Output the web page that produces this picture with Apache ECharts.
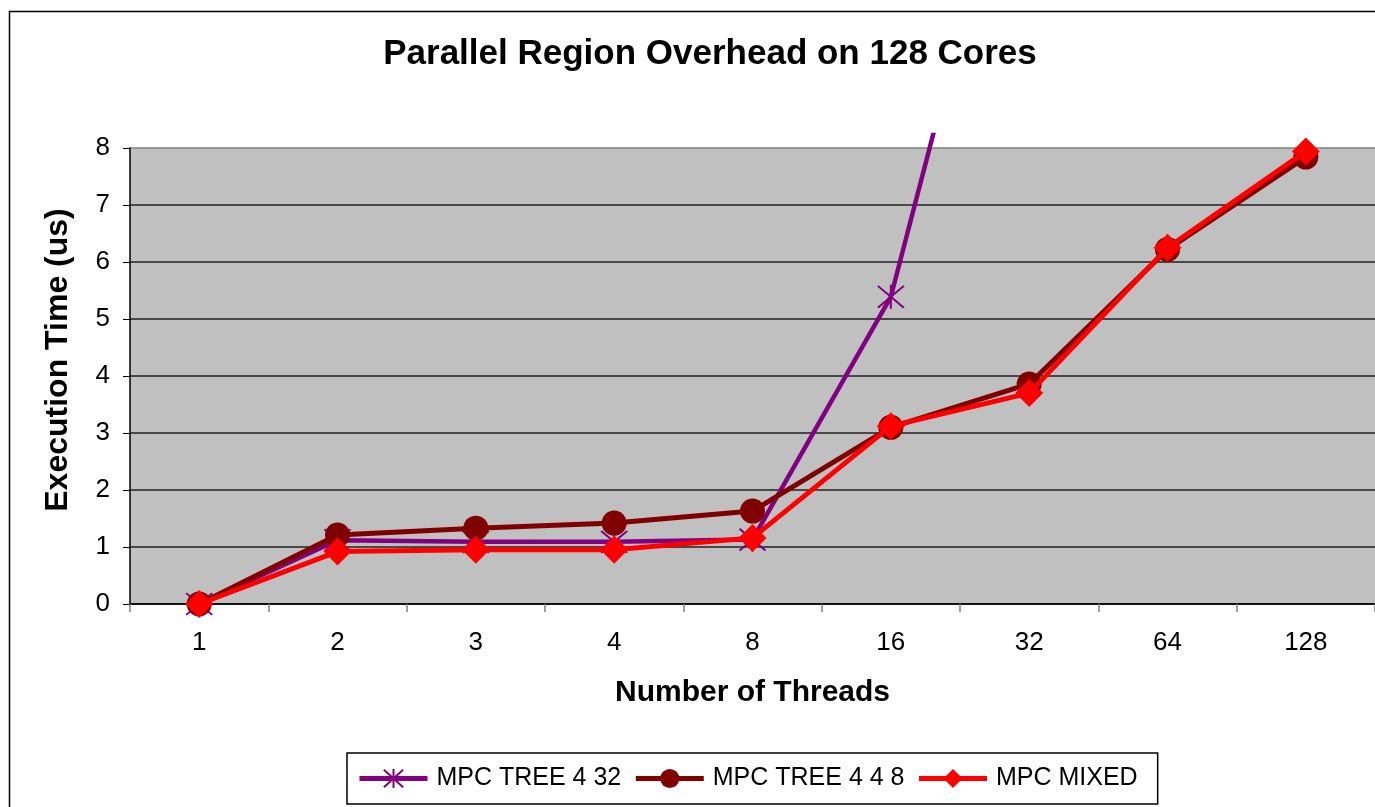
<!DOCTYPE html>
<html>
<head>
<meta charset="utf-8">
<script src="https://cdn.jsdelivr.net/npm/echarts@6/dist/echarts.min.js"></script>
<style>
  html, body { margin: 0; padding: 0; background: #fff; }
  #chart { width: 1375px; height: 807px; }
</style>
</head>
<body>
<div id="chart"></div>
<script>
// Thread counts on the category axis
const threads = ['1', '2', '3', '4', '8', '16', '32', '64', '128'];

// Execution time (us) per configuration
const treeFourThirtyTwo = [0, 1.12, 1.09, 1.09, 1.13, 5.39, 14.7, null, null];
const treeFourFourEight = [0, 1.21, 1.33, 1.42, 1.63, 3.1, 3.86, 6.22, 7.84];
const mixed = [0, 0.92, 0.95, 0.95, 1.16, 3.12, 3.7, 6.25, 7.94];

// Y-axis tick values
const yTicks = [0, 1, 2, 3, 4, 5, 6, 7, 8];

const seriesNames = ['MPC TREE 4 32', 'MPC TREE 4 4 8', 'MPC MIXED'];

const FONT = '"Liberation Sans", Arial, sans-serif';

// Plot area geometry: the framed plot spans 0..8; lines may run a little above it
const plotTop = 148, plotBottom = 203, lineTop = 135, chartH = 807;
const plotH = chartH - plotTop - plotBottom;
const lineH = chartH - lineTop - plotBottom;
const yMax = yTicks[yTicks.length - 1];
const lineMax = yMax * lineH / plotH;

const chart = echarts.init(document.getElementById('chart'), null, { renderer: 'canvas' });

const starPath = 'path://M0,0L20,20M20,0L0,20M10,-1L10,21';

const option = {
  backgroundColor: '#ffffff',
  animation: false,
  title: {
    text: 'Parallel Region Overhead on 128 Cores',
    left: 705,
    textAlign: 'center',
    top: 32,
    textStyle: { fontFamily: FONT, fontWeight: 'bold', fontSize: 35, color: '#000' }
  },
  graphic: [{
    type: 'rect',
    left: 7, top: 9,
    shape: { width: 1400, height: 830 },
    style: { fill: 'none', stroke: '#000', lineWidth: 1.5 },
    silent: true
  }],
  legend: {
    data: seriesNames,
    left: 347,
    top: 753,
    orient: 'horizontal',
    itemWidth: 68,
    itemHeight: 24,
    itemGap: 12,
    padding: [13, 20, 13, 10],
    borderColor: '#000',
    borderWidth: 1.5,
    backgroundColor: '#fff',
    lineStyle: { width: 5 },
    textStyle: { fontFamily: FONT, fontSize: 25, color: '#000', padding: [0, 0, 0, 4] }
  },
  grid: [
    // grid 0 carries the lines (slightly taller so steep segments can overrun the frame)
    { left: 130, right: -2, top: lineTop, bottom: plotBottom, containLabel: false },
    // grid 1 is the framed gray plot area with the visible axes
    { left: 130, right: -2, top: plotTop, bottom: plotBottom, containLabel: false,
      show: true, backgroundColor: '#C0C0C0', borderWidth: 0 }
  ],
  xAxis: [
    { type: 'category', gridIndex: 0, data: threads, show: false, boundaryGap: true },
    {
      type: 'category', gridIndex: 1, data: threads, boundaryGap: true,
      name: 'Number of Threads', nameLocation: 'middle', nameGap: 74,
      nameTextStyle: { fontFamily: FONT, fontWeight: 'bold', fontSize: 30, color: '#000', verticalAlign: 'top' },
      axisLine: { lineStyle: { color: '#000', width: 1.5 } },
      axisTick: { show: true, length: 8, lineStyle: { color: '#808080', width: 1.5 } },
      axisLabel: { fontFamily: FONT, fontSize: 26, color: '#000', margin: 26 },
      splitLine: { show: false }
    }
  ],
  yAxis: [
    { type: 'value', gridIndex: 0, min: 0, max: lineMax, show: false, splitLine: { show: false } },
    {
      type: 'value', gridIndex: 1, min: yTicks[0], max: yMax, interval: 1,
      name: 'Execution Time (us)', nameLocation: 'middle', nameGap: 56, nameRotate: 90,
      nameTextStyle: { fontFamily: FONT, fontWeight: 'bold', fontSize: 32, color: '#000', padding: [0, 0, 0, 32] },
      axisLine: { show: true, lineStyle: { color: '#000', width: 1.5 } },
      axisTick: { show: true, length: 7, lineStyle: { color: '#000', width: 1 } },
      axisLabel: { fontFamily: FONT, fontSize: 26, color: '#000', margin: 20 },
      splitLine: {
        show: true,
        lineStyle: {
          color: ['#202020', '#202020', '#202020', '#202020', '#202020', '#202020', '#202020', '#202020', '#808080'],
          width: 1.5
        }
      }
    }
  ],
  series: [
    {
      name: seriesNames[0], type: 'line', xAxisIndex: 0, yAxisIndex: 0,
      data: treeFourThirtyTwo, clip: true, connectNulls: false,
      symbol: starPath, symbolSize: [26, 24],
      lineStyle: { color: '#800080', width: 4.5 },
      itemStyle: { color: '#800080', borderColor: '#800080', borderWidth: 2 },
      z: 3
    },
    {
      name: seriesNames[1], type: 'line', xAxisIndex: 0, yAxisIndex: 0,
      data: treeFourFourEight, clip: true,
      symbol: 'circle', symbolSize: 25,
      lineStyle: { color: '#800000', width: 5 },
      itemStyle: { color: '#800000', borderWidth: 0 },
      z: 4
    },
    {
      name: seriesNames[2], type: 'line', xAxisIndex: 0, yAxisIndex: 0,
      data: mixed, clip: true,
      symbol: 'diamond', symbolSize: 28,
      lineStyle: { color: '#FF0000', width: 5 },
      itemStyle: { color: '#FF0000', borderWidth: 0 },
      z: 5
    }
  ]
};

chart.setOption(option);
</script>
</body>
</html>
